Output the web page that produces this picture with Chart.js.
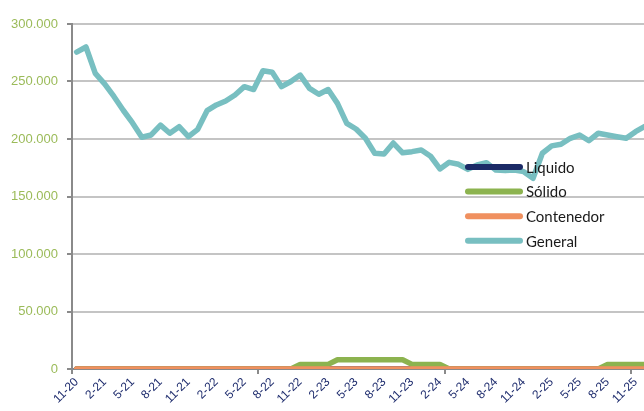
<!DOCTYPE html>
<html>
<head>
<meta charset="utf-8">
<script src="https://cdn.jsdelivr.net/npm/chart.js@4.4.1/dist/chart.umd.min.js"></script>
<style>
    html, body { margin: 0; padding: 0; background: #fff; overflow: hidden; }
    #wrap { position: relative; width: 656px; height: 411px; }
</style>
</head>
<body>
<div id="wrap"><canvas id="traficoChart"></canvas></div>
<script>
// meses de nov-2020 a dic-2025
const meses = [];
for (let y = 20; y <= 25; y++) {
    for (let m = 1; m <= 12; m++) {
        if (y === 20 && m < 11) continue;
        meses.push(m + '-' + y);
    }
}

const liquido = [
    0, 0, 0, 0, 0, 0, 0, 0, 0, 0, 0, 0, 0, 0, 0, 0, 0, 0, 0, 0,
    0, 0, 0, 0, 0, 0, 0, 0, 0, 0, 0, 0, 0, 0, 0, 0, 0, 0, 0, 0,
    0, 0, 0, 0, 0, 0, 0, 0, 0, 0, 0, 0, 0, 0, 0, 0, 0, 0, 0, 0,
    0, 0
];
const solido = [
    0, 0, 0, 0, 0, 0, 0, 0, 0, 0, 0, 0, 0, 0, 0, 0, 0, 0, 0, 0,
    0, 0, 0, 0, 4000, 4000, 4000, 4000, 8000, 8000, 8000, 8000, 8000, 8000, 8000, 8000, 4000, 4000, 4000, 4000,
    0, 0, 0, 0, 0, 0, 0, 0, 0, 0, 0, 0, 0, 0, 0, 0, 0, 4000, 4000, 4000,
    4000, 4000
];
const contenedor = [
    0, 0, 0, 0, 0, 0, 0, 0, 0, 0, 0, 0, 0, 0, 0, 0, 0, 0, 0, 0,
    0, 0, 0, 0, 0, 0, 0, 0, 0, 0, 0, 0, 0, 0, 0, 0, 0, 0, 0, 0,
    0, 0, 0, 0, 0, 0, 0, 0, 0, 0, 0, 0, 0, 0, 0, 0, 0, 0, 0, 0,
    0, 0
];
const general = [
    275600, 280000, 257000, 248000, 237000, 225000, 214000, 201500, 203500, 212000,
    205000, 210700, 202000, 208400, 224600, 229600, 233000, 238300, 245500, 243000,
    259400, 258000, 245500, 250000, 255600, 244000, 238900, 243000, 231000, 213600,
    208700, 200600, 187600, 187000, 196500, 188000, 189000, 190400, 185000, 174000,
    179700, 178000, 173600, 177400, 179400, 173000, 172500, 173000, 171600, 165800,
    187600, 194000, 195400, 200600, 203500, 198500, 205000, 203500, 202000, 200600,
    206400, 211000
];

const yTicks = [0, 50000, 100000, 150000, 200000, 250000, 300000];

function miles(v) {
    return String(v).replace(/\B(?=(\d{3})+(?!\d))/g, '.');
}

function serie(label, data, color, order) {
    return {
        label: label,
        data: data,
        borderColor: color,
        backgroundColor: color,
        borderWidth: 5.5,
        pointRadius: 0,
        tension: 0,
        borderJoinStyle: 'round',
        borderCapStyle: 'round',
        order: order
    };
}

// leyenda dibujada encima de las lineas, sin fondo
const leyendaPlugin = {
    id: 'leyenda',
    afterDatasetsDraw(chart) {
        const ctx = chart.ctx;
        const x0 = 468, x1 = 520, y0 = 167, paso = 24.6;
        ctx.save();
        ctx.font = '15px Lato';
        ctx.textBaseline = 'middle';
        chart.data.datasets.forEach(function (ds, i) {
            const y = y0 + i * paso;
            ctx.strokeStyle = ds.borderColor;
            ctx.lineWidth = 6;
            ctx.lineCap = 'round';
            ctx.beginPath();
            ctx.moveTo(x0, y);
            ctx.lineTo(x1, y);
            ctx.stroke();
            ctx.fillStyle = '#1a1a1a';
            ctx.fillText(ds.label, x1 + 6, y + 1);
        });
        ctx.restore();
    }
};

(function(){
    let ctx = document.getElementById('traficoChart');
    let traficoChart = new Chart(ctx, {
        type: 'line',
        data: {
            labels: meses,
            datasets: [
                serie('Liquido', liquido, '#1b2a66', 4),
                serie('Sólido', solido, '#8cb34f', 3),
                serie('Contenedor', contenedor, '#f0905f', 2),
                serie('General', general, '#78bfc1', 1)
            ]
        },
        options: {
            responsive: true,
            maintainAspectRatio: false,
            animation: false,
            layout: {
                padding: { top: 24, left: 0, right: 0, bottom: 0 }
            },
            plugins: {
                legend: { display: false },
                tooltip: { enabled: false }
            },
            scales: {
                x: {
                    offset: true,
                    grid: {
                        offset: true,
                        drawOnChartArea: false,
                        tickLength: 5,
                        lineWidth: 2,
                        tickColor: function (c) {
                            return c.index % 20 === 0 ? '#8a8a8a' : 'rgba(0,0,0,0)';
                        }
                    },
                    border: { display: true, color: '#8a8a8a', width: 2 },
                    ticks: {
                        autoSkip: false,
                        minRotation: 45,
                        maxRotation: 45,
                        padding: 1,
                        color: '#1f2d6e',
                        font: { family: 'Liberation Sans', size: 12 },
                        callback: function (val, i) {
                            return i % 3 === 0 ? this.getLabelForValue(val) : '';
                        }
                    },
                    afterFit: function (scale) {
                        scale.height = 42;
                    }
                },
                y: {
                    min: 0,
                    max: 300000,
                    afterBuildTicks: function (scale) {
                        scale.ticks = yTicks.map(function (v) { return { value: v }; });
                    },
                    grid: {
                        color: '#c4c4c4',
                        lineWidth: 2,
                        tickLength: 5,
                        tickColor: '#8a8a8a'
                    },
                    border: { display: true, color: '#8a8a8a', width: 2 },
                    ticks: {
                        padding: 9,
                        color: '#9bbb59',
                        font: { family: 'Liberation Sans', size: 13 },
                        callback: function (v) { return miles(v); }
                    },
                    afterFit: function (scale) {
                        scale.width = 72;
                    }
                }
            }
        },
        plugins: [leyendaPlugin]
    });
})();
</script>
</body>
</html>
